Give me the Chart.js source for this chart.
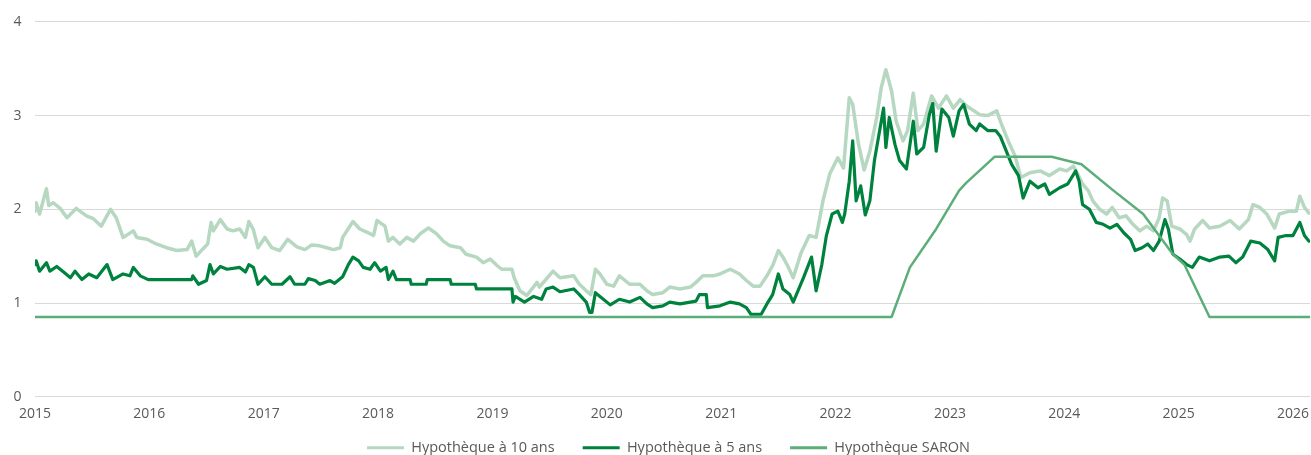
<!DOCTYPE html>
<html>
<head>
<meta charset="utf-8">
<script src="https://cdn.jsdelivr.net/npm/chart.js@4/dist/chart.umd.min.js"></script>
<style>
  html, body { margin: 0; padding: 0; background: #fff; }
  #wrap { width: 1311px; height: 455px; position: relative; }
</style>
</head>
<body>
<div id="wrap"><canvas id="myChart"></canvas></div>
<script>
// Hypothèque à 10 ans : dates (années décimales) et taux
const dates10 = [
  2015.00, 2015.01, 2015.04, 2015.10, 2015.12, 2015.16, 2015.22, 2015.28, 2015.36, 2015.45,
  2015.51, 2015.58, 2015.66, 2015.71, 2015.77, 2015.86, 2015.89, 2015.98, 2016.06, 2016.15,
  2016.24, 2016.33, 2016.37, 2016.41, 2016.47, 2016.51, 2016.54, 2016.56, 2016.62, 2016.68,
  2016.73, 2016.79, 2016.84, 2016.87, 2016.91, 2016.95, 2017.01, 2017.07, 2017.14, 2017.21,
  2017.29, 2017.36, 2017.42, 2017.49, 2017.55, 2017.61, 2017.67, 2017.69, 2017.78, 2017.84,
  2017.93, 2017.96, 2017.99, 2018.06, 2018.09, 2018.13, 2018.19, 2018.25, 2018.31, 2018.37,
  2018.44, 2018.51, 2018.57, 2018.63, 2018.72, 2018.77, 2018.86, 2018.92, 2018.98, 2019.04,
  2019.08, 2019.17, 2019.19, 2019.24, 2019.30, 2019.39, 2019.41, 2019.53, 2019.59, 2019.71,
  2019.76, 2019.82, 2019.86, 2019.90, 2019.94, 2020.00, 2020.06, 2020.11, 2020.20, 2020.29,
  2020.35, 2020.40, 2020.49, 2020.55, 2020.64, 2020.73, 2020.78, 2020.84, 2020.93, 2020.99,
  2021.08, 2021.16, 2021.22, 2021.28, 2021.34, 2021.40, 2021.45, 2021.50, 2021.54, 2021.58,
  2021.63, 2021.70, 2021.77, 2021.83, 2021.89, 2021.95, 2022.02, 2022.07, 2022.12, 2022.15,
  2022.20, 2022.25, 2022.30, 2022.36, 2022.40, 2022.44, 2022.49, 2022.53, 2022.59, 2022.63,
  2022.68, 2022.72, 2022.77, 2022.84, 2022.90, 2022.97, 2023.03, 2023.09, 2023.15, 2023.26,
  2023.33, 2023.41, 2023.45, 2023.51, 2023.57, 2023.62, 2023.70, 2023.79, 2023.87, 2023.96,
  2024.02, 2024.08, 2024.12, 2024.16, 2024.21, 2024.25, 2024.31, 2024.37, 2024.42, 2024.48,
  2024.54, 2024.60, 2024.66, 2024.72, 2024.78, 2024.83, 2024.86, 2024.90, 2024.94, 2025.01,
  2025.07, 2025.10, 2025.14, 2025.21, 2025.27, 2025.36, 2025.45, 2025.53, 2025.61, 2025.65,
  2025.71, 2025.77, 2025.84, 2025.88, 2025.97, 2026.03, 2026.06, 2026.10, 2026.14
];
const rate10 = [
  1.98, 2.07, 1.95, 2.22, 2.04, 2.07, 2.01, 1.91, 2.01, 1.93,
  1.90, 1.82, 2.00, 1.91, 1.70, 1.77, 1.70, 1.68, 1.63, 1.59,
  1.56, 1.57, 1.66, 1.50, 1.58, 1.63, 1.86, 1.77, 1.89, 1.79,
  1.77, 1.79, 1.70, 1.87, 1.78, 1.59, 1.70, 1.59, 1.56, 1.68,
  1.60, 1.57, 1.62, 1.61, 1.59, 1.57, 1.59, 1.70, 1.87, 1.79,
  1.74, 1.72, 1.88, 1.82, 1.66, 1.70, 1.63, 1.70, 1.66, 1.74,
  1.80, 1.74, 1.66, 1.61, 1.59, 1.52, 1.49, 1.43, 1.47, 1.40,
  1.36, 1.36, 1.27, 1.13, 1.08, 1.22, 1.17, 1.34, 1.27, 1.29,
  1.20, 1.13, 1.09, 1.36, 1.31, 1.20, 1.18, 1.29, 1.20, 1.20,
  1.13, 1.09, 1.11, 1.17, 1.15, 1.17, 1.22, 1.29, 1.29, 1.31,
  1.36, 1.31, 1.24, 1.18, 1.18, 1.29, 1.40, 1.56, 1.49, 1.40,
  1.27, 1.54, 1.72, 1.70, 2.09, 2.38, 2.55, 2.44, 3.19, 3.12,
  2.70, 2.42, 2.62, 2.98, 3.30, 3.49, 3.26, 2.94, 2.73, 2.84,
  3.24, 2.84, 2.91, 3.21, 3.08, 3.21, 3.08, 3.17, 3.10, 3.01,
  3.00, 3.05, 2.91, 2.73, 2.57, 2.34, 2.39, 2.41, 2.36, 2.43,
  2.41, 2.46, 2.37, 2.27, 2.20, 2.09, 2.00, 1.95, 2.02, 1.91,
  1.93, 1.84, 1.77, 1.82, 1.77, 1.91, 2.12, 2.09, 1.82, 1.79,
  1.73, 1.66, 1.79, 1.88, 1.80, 1.82, 1.88, 1.79, 1.89, 2.05,
  2.02, 1.95, 1.80, 1.95, 1.98, 1.98, 2.14, 2.02, 1.96
];

// Hypothèque à 5 ans
const dates5 = [
  2015.00, 2015.01, 2015.04, 2015.10, 2015.13, 2015.19, 2015.25, 2015.31, 2015.35, 2015.41,
  2015.47, 2015.54, 2015.63, 2015.68, 2015.77, 2015.83, 2015.86, 2015.92, 2015.99, 2016.37,
  2016.38, 2016.43, 2016.50, 2016.53, 2016.56, 2016.62, 2016.68, 2016.79, 2016.84, 2016.87,
  2016.91, 2016.95, 2017.01, 2017.07, 2017.16, 2017.23, 2017.27, 2017.36, 2017.39, 2017.45,
  2017.49, 2017.58, 2017.62, 2017.69, 2017.74, 2017.78, 2017.83, 2017.87, 2017.93, 2017.97,
  2018.02, 2018.07, 2018.09, 2018.13, 2018.16, 2018.28, 2018.29, 2018.42, 2018.43, 2018.63,
  2018.64, 2018.85, 2018.86, 2019.17, 2019.18, 2019.20, 2019.28, 2019.36, 2019.43, 2019.47,
  2019.53, 2019.59, 2019.71, 2019.76, 2019.82, 2019.85, 2019.87, 2019.90, 2019.94, 2020.03,
  2020.11, 2020.20, 2020.29, 2020.35, 2020.40, 2020.49, 2020.55, 2020.64, 2020.73, 2020.78,
  2020.81, 2020.87, 2020.88, 2020.99, 2021.08, 2021.16, 2021.22, 2021.26, 2021.35, 2021.40,
  2021.45, 2021.50, 2021.54, 2021.60, 2021.63, 2021.72, 2021.79, 2021.83, 2021.88, 2021.92,
  2021.97, 2022.02, 2022.06, 2022.08, 2022.12, 2022.15, 2022.18, 2022.22, 2022.26, 2022.30,
  2022.34, 2022.39, 2022.42, 2022.44, 2022.47, 2022.52, 2022.56, 2022.62, 2022.68, 2022.71,
  2022.77, 2022.82, 2022.85, 2022.88, 2022.93, 2022.99, 2023.03, 2023.08, 2023.12, 2023.17,
  2023.23, 2023.26, 2023.33, 2023.40, 2023.44, 2023.48, 2023.54, 2023.60, 2023.64, 2023.70,
  2023.77, 2023.83, 2023.87, 2023.96, 2024.03, 2024.10, 2024.13, 2024.16, 2024.22, 2024.28,
  2024.34, 2024.40, 2024.46, 2024.52, 2024.58, 2024.62, 2024.68, 2024.73, 2024.78, 2024.83,
  2024.88, 2024.91, 2024.95, 2025.01, 2025.07, 2025.12, 2025.18, 2025.27, 2025.36, 2025.44,
  2025.50, 2025.56, 2025.63, 2025.71, 2025.78, 2025.84, 2025.87, 2025.94, 2026.00, 2026.06,
  2026.10, 2026.14
];
const rate5 = [
  1.41, 1.45, 1.34, 1.43, 1.34, 1.39, 1.33, 1.27, 1.34, 1.25,
  1.31, 1.27, 1.41, 1.25, 1.31, 1.29, 1.38, 1.29, 1.25, 1.25,
  1.29, 1.20, 1.24, 1.41, 1.31, 1.39, 1.36, 1.38, 1.33, 1.41,
  1.38, 1.20, 1.28, 1.20, 1.20, 1.28, 1.20, 1.20, 1.26, 1.24,
  1.20, 1.24, 1.21, 1.28, 1.41, 1.49, 1.45, 1.38, 1.36, 1.43,
  1.34, 1.38, 1.25, 1.34, 1.25, 1.25, 1.20, 1.20, 1.25, 1.25,
  1.20, 1.20, 1.15, 1.15, 1.01, 1.07, 1.01, 1.07, 1.04, 1.15,
  1.17, 1.12, 1.15, 1.09, 1.01, 0.90, 0.90, 1.11, 1.07, 0.98,
  1.04, 1.01, 1.06, 0.99, 0.95, 0.97, 1.01, 0.99, 1.01, 1.02,
  1.09, 1.09, 0.95, 0.97, 1.01, 0.99, 0.95, 0.88, 0.88, 0.99,
  1.09, 1.31, 1.15, 1.09, 1.01, 1.27, 1.49, 1.13, 1.41, 1.72,
  1.95, 1.98, 1.86, 1.95, 2.30, 2.73, 2.09, 2.25, 1.94, 2.09,
  2.52, 2.87, 3.08, 2.66, 2.98, 2.69, 2.52, 2.43, 2.94, 2.59,
  2.66, 3.01, 3.13, 2.62, 3.07, 2.98, 2.78, 3.05, 3.12, 2.91,
  2.84, 2.91, 2.84, 2.84, 2.78, 2.66, 2.48, 2.36, 2.12, 2.30,
  2.23, 2.27, 2.16, 2.23, 2.27, 2.41, 2.30, 2.05, 2.00, 1.86,
  1.84, 1.80, 1.84, 1.75, 1.68, 1.56, 1.59, 1.63, 1.56, 1.66,
  1.89, 1.79, 1.52, 1.47, 1.41, 1.38, 1.49, 1.45, 1.49, 1.50,
  1.43, 1.49, 1.66, 1.64, 1.57, 1.45, 1.70, 1.72, 1.72, 1.86,
  1.72, 1.66
];

// Hypothèque SARON
const datesSaron = [2015.00, 2022.49, 2022.65, 2022.88, 2023.08, 2023.14, 2023.39, 2023.89, 2024.15, 2024.42, 2024.69, 2024.95, 2025.05, 2025.27, 2026.15];
const rateSaron = [0.85, 0.85, 1.38, 1.79, 2.20, 2.28, 2.56, 2.56, 2.48, 2.21, 1.95, 1.52, 1.41, 0.85, 0.85];

const seriesNames = ["Hypothèque à 10 ans", "Hypothèque à 5 ans", "Hypothèque SARON"];
const seriesColors = ["#b6d7c0", "#00823f", "#5cae79"];

function toPoints(xs, ys) {
  const pts = [];
  for (let i = 0; i < xs.length; i++) {
    pts.push({ x: xs[i], y: ys[i] });
  }
  return pts;
}

const data = {
  datasets: [
    {
      label: seriesNames[0],
      data: toPoints(dates10, rate10),
      borderColor: seriesColors[0],
      backgroundColor: seriesColors[0],
      borderWidth: 3.5,
      order: 2,
    },
    {
      label: seriesNames[1],
      data: toPoints(dates5, rate5),
      borderColor: seriesColors[1],
      backgroundColor: seriesColors[1],
      borderWidth: 3.2,
      order: 1,
    },
    {
      label: seriesNames[2],
      data: toPoints(datesSaron, rateSaron),
      borderColor: seriesColors[2],
      backgroundColor: seriesColors[2],
      borderWidth: 2.5,
      order: 0,
    },
  ],
};

const tickFont = { family: "'Open Sans', sans-serif", size: 14 };

// place la légende comme sur l'original (un peu plus haut, un peu à droite)
const legendShift = {
  id: "legendShift",
  afterLayout(chart) {
    chart.legend.left += 13;
    chart.legend.right += 13;
    chart.legend.top -= 12;
    chart.legend.bottom -= 12;
  },
};

const config = {
  type: "line",
  data: data,
  options: {
    responsive: true,
    maintainAspectRatio: false,
    animation: false,
    elements: {
      point: { radius: 0 },
      line: { tension: 0, borderJoinStyle: "round", borderCapStyle: "round" },
    },
    // bas négatif : laisse plus de hauteur au graphique
    layout: { padding: { left: 0, right: 0, top: 10, bottom: -22 } },
    scales: {
      x: {
        type: "linear",
        min: 2015,
        max: 2026.15,
        grid: { display: false, drawTicks: true, tickLength: 7 },
        border: { display: false },
        ticks: {
          stepSize: 1,
          includeBounds: false,
          autoSkip: false,
          maxRotation: 0,
          color: "#595959",
          font: tickFont,
          padding: 2,
          callback: (v) => (Number.isInteger(v) ? String(v) : ""),
        },
      },
      y: {
        min: 0,
        max: 4,
        grid: { color: "#d9d9d9", lineWidth: 1, drawTicks: false },
        border: { display: false },
        ticks: {
          stepSize: 1,
          color: "#595959",
          font: tickFont,
          padding: 13.5,
        },
      },
    },
    plugins: {
      tooltip: { enabled: false },
      legend: {
        position: "bottom",
        labels: {
          boxWidth: 37,
          boxHeight: 3,
          padding: 28,
          color: "#595959",
          font: { family: "'Open Sans', sans-serif", size: 14.5 },
          generateLabels: (chart) =>
            chart.data.datasets.map((ds, i) => ({
              text: ds.label,
              fillStyle: ds.borderColor,
              strokeStyle: ds.borderColor,
              lineWidth: 0,
              fontColor: "#595959",
              datasetIndex: i,
              hidden: false,
            })),
        },
      },
    },
  },
  plugins: [legendShift],
};

const myChart = new Chart(document.getElementById("myChart"), config);
</script>
</body>
</html>
